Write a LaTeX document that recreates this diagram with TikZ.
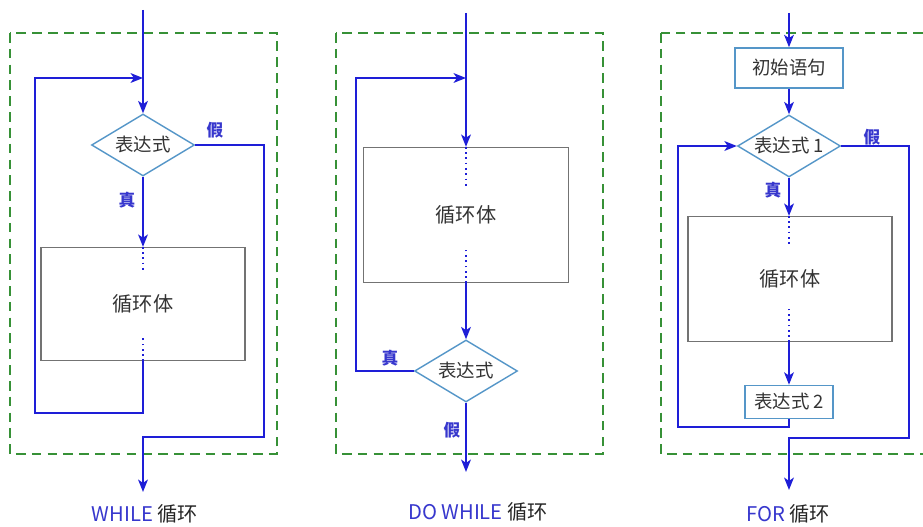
\documentclass[tikz,border=0pt]{standalone}
\usepackage{fontspec}
\setmainfont{Noto Sans CJK SC}
\usepackage{tikz}
\usetikzlibrary{shapes.geometric}
\usetikzlibrary{arrows.meta}
\usetikzlibrary{positioning}

\definecolor{flowblue}{RGB}{30,30,215}
\definecolor{edgeblue}{RGB}{85,150,200}
\definecolor{fencegreen}{RGB}{55,145,55}
\definecolor{labblue}{RGB}{55,55,205}

\begin{document}
\begin{tikzpicture}[x=0.02cm,y=-0.02cm,
  flow/.style={draw=flowblue,line width=1.2pt,-{Stealth[length=7pt,width=5.5pt,inset=1.8pt]}},
  dotline/.style={draw=flowblue,line width=1pt,dotted},
  fence/.style={draw=fencegreen,line width=1.3pt,dash pattern=on 5.5pt off 3.5pt},
  decision/.style={draw=edgeblue,diamond,line width=0.8pt,inner sep=0pt,aspect=1.65,
    minimum width=2.06cm,minimum height=1.24cm,font=\fontsize{10.5}{12}\selectfont,text=black!80},
  bodybox/.style={draw=black!55,line width=0.7pt,inner sep=0pt,font=\fontsize{11.5}{13}\selectfont,text=black!80},
  stepbox/.style={draw=edgeblue,line width=0.9pt,inner sep=0pt,font=\fontsize{10.5}{12}\selectfont,text=black!80},
  tag/.style={text=labblue,font=\fontsize{9.5}{11}\selectfont\bfseries,inner sep=0pt},
  caption/.style={font=\fontsize{11.5}{13}\selectfont,text=black!85,inner sep=0pt}]
  \useasboundingbox (0,0) rectangle (923,527);

  % WHILE
  \draw[fence] (10,33) rectangle (277,454);
  \coordinate (in1) at (143,10);
  \node[decision] (cond1) at (143,145) {表达式};
  \node[bodybox,minimum width=4.08cm,minimum height=2.26cm] (body1) at (143,304) {循环体};
  \coordinate (join1) at (143,78);
  \coordinate (back1) at (35,413);
  \coordinate (skip1) at (264,437);
  \coordinate (out1) at (143,492);
  \draw[flow] (in1) -- (cond1.north);
  \draw[flow] (cond1.south) -- (body1.north);
  \draw[dotline] (body1.north) -- ++(0,24);
  \draw[dotline] (body1.south) -- ++(0,-25);
  \draw[flow] (body1.south) |- (back1) |- (join1);
  \draw[flow] (cond1.east) -| (skip1) -| (out1);
  \node[tag] (no1) at (215,130) {假};
  \node[tag] (yes1) at (127,200) {真};
  \node[caption] (cap1) at (145,514) {\textcolor{labblue}{WHILE} 循环};

  % DO WHILE
  \draw[fence] (336,33) rectangle (603,454);
  \coordinate (in2) at (466,13);
  \node[bodybox,minimum width=4.1cm,minimum height=2.7cm] (body2) at (466,215) {循环体};
  \node[decision] (cond2) at (466,371) {表达式};
  \coordinate (join2) at (466,78);
  \coordinate (back2) at (356,371);
  \coordinate (out2) at (466,472);
  \draw[flow] (in2) -- (body2.north);
  \draw[dotline] (body2.north) -- ++(0,40);
  \draw[dotline] (body2.south) -- ++(0,-33);
  \draw[flow] (body2.south) -- (cond2.north);
  \draw[flow] (cond2.west) -- (back2) |- (join2);
  \draw[flow] (cond2.south) -- (out2);
  \node[tag] (yes2) at (390,358) {真};
  \node[tag] (no2) at (452,430) {假};
  \node[caption] (cap2) at (478,512) {\textcolor{labblue}{DO WHILE} 循环};

  % FOR
  \draw[fence] (661,33) rectangle (940,454);
  \coordinate (in3) at (789,13);
  \node[stepbox,minimum width=2.16cm,minimum height=0.8cm] (init) at (789,68) {初始语句};
  \node[decision] (cond3) at (789,146) {表达式 1};
  \node[bodybox,minimum width=4.08cm,minimum height=2.5cm] (body3) at (790,279) {循环体};
  \node[stepbox,minimum width=1.76cm,minimum height=0.66cm] (upd) at (789,402) {表达式 2};
  \coordinate (back3) at (678,427);
  \coordinate (skip3) at (909,438);
  \coordinate (out3) at (789,490);
  \draw[flow] (in3) -- (init.north);
  \draw[flow] (init.south) -- (cond3.north);
  \draw[flow] (cond3.south) -- (cond3.south |- body3.north);
  \draw[dotline] (cond3.south |- body3.north) -- ++(0,28);
  \draw[dotline] (cond3.south |- body3.south) -- ++(0,-34);
  \draw[flow] (cond3.south |- body3.south) -- (upd.north);
  \draw[flow] (upd.south) |- (back3) |- (cond3.west);
  \draw[flow] (cond3.east) -| (skip3) -| (out3);
  \node[tag] (no3) at (872,137) {假};
  \node[tag] (yes3) at (773,190) {真};
  \node[caption] (cap3) at (788,514) {\textcolor{labblue}{FOR} 循环};
\end{tikzpicture}
\end{document}
